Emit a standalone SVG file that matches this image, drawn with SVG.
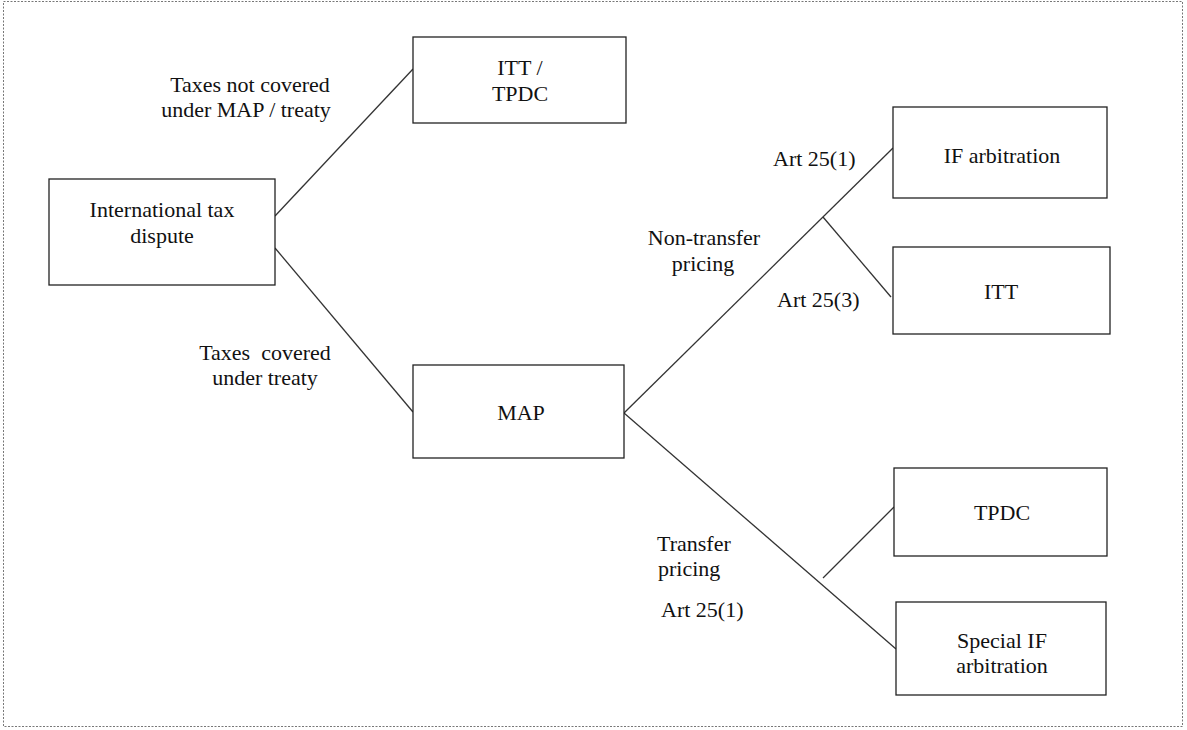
<svg xmlns="http://www.w3.org/2000/svg" width="1187" height="730" viewBox="0 0 1187 730">
  <style>
    .box { fill: #ffffff; stroke: #222222; stroke-width: 1.3; }
    .conn { stroke: #333333; stroke-width: 1.3; fill: none; }
    .t { font-family: 'Liberation Serif', 'DejaVu Serif', serif; font-size: 22px; fill: #111111; }
    .c { text-anchor: middle; }
  </style>
  <rect x="0" y="0" width="1187" height="730" fill="#ffffff"/>
  <rect x="3.5" y="1.5" width="1179" height="725" fill="none" stroke="#777777" stroke-width="1" stroke-dasharray="2,1.5"/>

  <g id="connectors">
    <line class="conn" x1="275" y1="216" x2="413" y2="69"/>
    <line class="conn" x1="275" y1="248" x2="413" y2="412"/>
    <line class="conn" x1="624" y1="413" x2="893" y2="148"/>
    <line class="conn" x1="823" y1="217" x2="891" y2="297"/>
    <line class="conn" x1="624" y1="413" x2="896" y2="649"/>
    <line class="conn" x1="823" y1="578" x2="894" y2="507"/>
  </g>

  <g id="edge-labels">
    <text class="t c" x="250" y="92">Taxes not covered</text>
    <text class="t c" x="246" y="117">under MAP / treaty</text>
    <text class="t c" x="265" y="360" xml:space="preserve">Taxes  covered</text>
    <text class="t c" x="265" y="385">under treaty</text>
    <text class="t" x="773" y="166">Art 25(1)</text>
    <text class="t c" x="704" y="245">Non-transfer</text>
    <text class="t c" x="703" y="271">pricing</text>
    <text class="t" x="777" y="307">Art 25(3)</text>
    <text class="t" x="657" y="551">Transfer</text>
    <text class="t" x="658" y="576">pricing</text>
    <text class="t" x="661" y="617">Art 25(1)</text>
  </g>

  <g id="node-dispute">
    <rect class="box" x="49" y="179" width="226" height="106"/>
    <text class="t c" x="162" y="217">International tax</text>
    <text class="t c" x="162" y="243">dispute</text>
  </g>
  <g id="node-itt-tpdc">
    <rect class="box" x="413" y="37" width="213" height="86"/>
    <text class="t c" x="520" y="75">ITT /</text>
    <text class="t c" x="520" y="101">TPDC</text>
  </g>
  <g id="node-map">
    <rect class="box" x="413" y="365" width="211" height="93"/>
    <text class="t c" x="521" y="420">MAP</text>
  </g>
  <g id="node-if-arbitration">
    <rect class="box" x="893" y="107" width="214" height="91"/>
    <text class="t c" x="1002" y="163">IF arbitration</text>
  </g>
  <g id="node-itt">
    <rect class="box" x="893" y="247" width="217" height="87"/>
    <text class="t c" x="1001" y="299">ITT</text>
  </g>
  <g id="node-tpdc">
    <rect class="box" x="894" y="468" width="213" height="88"/>
    <text class="t c" x="1002" y="520">TPDC</text>
  </g>
  <g id="node-special-if">
    <rect class="box" x="896" y="602" width="210" height="93"/>
    <text class="t c" x="1002" y="648">Special IF</text>
    <text class="t c" x="1002" y="673">arbitration</text>
  </g>
</svg>
